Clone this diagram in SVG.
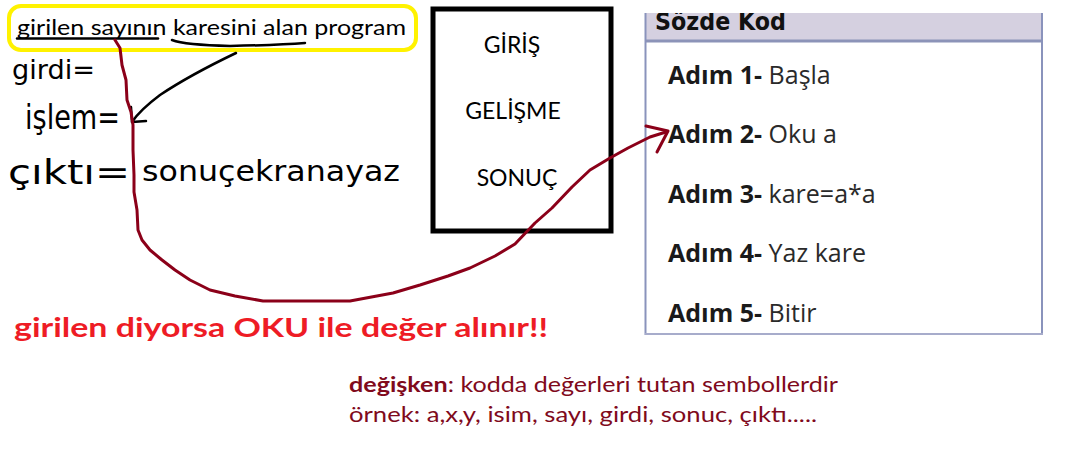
<svg xmlns="http://www.w3.org/2000/svg" width="1079" height="462" viewBox="0 0 1079 462">
<defs>
<style>
.cal{font-family:Lato,"Open Sans","Liberation Sans",sans-serif}
.hand{font-family:"DejaVu Sans","Liberation Sans",sans-serif;fill:#000}
.box{font-family:Lato,"Open Sans",sans-serif;font-size:23px;fill:#000;text-anchor:middle}
.tbl{font-family:"Open Sans","DejaVu Sans",sans-serif;font-size:25px;fill:#2a2a2a}
.tbl .b{font-weight:bold;fill:#1a1a1a}
.ink{fill:none;stroke:#000;stroke-width:2.5;stroke-linecap:round;stroke-linejoin:round}
.red{fill:none;stroke:#8B0019;stroke-width:3;stroke-linecap:round;stroke-linejoin:round}
.maroon{font-family:Lato,"Open Sans",sans-serif;font-size:21px;fill:#800A1C}
</style>
<clipPath id="tclip"><rect x="640" y="13" width="420" height="330"/></clipPath>
</defs>
<rect width="1079" height="462" fill="#fff"/>

<g id="title">
<rect x="9" y="6" width="407" height="44" rx="12" fill="none" stroke="#FFF200" stroke-width="4"/>
<text class="cal" x="17" y="35" font-size="22" textLength="389" lengthAdjust="spacingAndGlyphs">girilen sayının karesini alan program</text>
<path class="ink" d="M17 38.5 L158 38.5"/>
<path class="ink" d="M172 40 Q185 45 230 46 Q280 45 305 43"/>
</g>

<g id="handwriting">
<text class="hand" x="12" y="79" font-size="26" textLength="83" lengthAdjust="spacingAndGlyphs">girdi=</text>
<text class="hand" x="25" y="129" font-size="34" textLength="95" lengthAdjust="spacingAndGlyphs">işlem=</text>
<text class="hand" x="8" y="184" font-size="34" textLength="122" lengthAdjust="spacingAndGlyphs">çıktı=</text>
<text class="hand" x="142" y="181" font-size="28" textLength="258" lengthAdjust="spacingAndGlyphs">sonuçekranayaz</text>
</g>

<g id="stages">
<rect x="433" y="9" width="178" height="222" fill="none" stroke="#000" stroke-width="5"/>
<text class="box" x="512" y="53">GİRİŞ</text>
<text class="box" x="513" y="119">GELİŞME</text>
<text class="box" x="517" y="186">SONUÇ</text>
</g>

<g id="pseudocode" clip-path="url(#tclip)">
<rect x="645" y="0" width="397" height="41" fill="#D5D0E0"/>
<rect x="645" y="41" width="397" height="293" fill="#fff"/>
<text x="655" y="30" font-family="'DejaVu Sans',sans-serif" font-size="25" font-weight="bold" fill="#111" textLength="131" lengthAdjust="spacingAndGlyphs">Sözde Kod</text>
<line x1="645" y1="41" x2="1042" y2="41" stroke="#8C93B8" stroke-width="3"/>
<line x1="645.5" y1="0" x2="645.5" y2="335" stroke="#8A93BC" stroke-width="2"/>
<line x1="1042" y1="0" x2="1042" y2="335" stroke="#8A93BC" stroke-width="2"/>
<line x1="645" y1="334" x2="1043" y2="334" stroke="#A7ACCB" stroke-width="2"/>
<text class="tbl" x="668" y="84"><tspan class="b">Adım 1-</tspan> Başla</text>
<text class="tbl" x="668" y="143"><tspan class="b">Adım 2-</tspan> Oku a</text>
<text class="tbl" x="668" y="203"><tspan class="b">Adım 3-</tspan> kare=a*a</text>
<text class="tbl" x="668" y="262"><tspan class="b">Adım 4-</tspan> Yaz kare</text>
<text class="tbl" x="668" y="322"><tspan class="b">Adım 5-</tspan> Bitir</text>
</g>

<g id="notes">
<text class="cal" x="14" y="337" font-size="26" font-weight="bold" fill="#EE1C25" textLength="534" lengthAdjust="spacingAndGlyphs">girilen diyorsa OKU ile değer alınır!!</text>
<text class="maroon" x="349" y="392" textLength="489" lengthAdjust="spacingAndGlyphs"><tspan font-weight="bold">değişken</tspan>: kodda değerleri tutan sembollerdir</text>
<text class="maroon" x="349" y="422" textLength="468" lengthAdjust="spacingAndGlyphs">örnek: a,x,y, isim, sayı, girdi, sonuc, çıktı.....</text>
</g>

<g id="connectors">
<path class="ink" d="M236 53 Q190 75 160 95 Q140 110 132 122"/>
<path class="ink" d="M131 107 L132 122 L146 121"/>
<path class="red" d="M115 40 L120 48 L122 65 L126 80 L127 100 L131 112 L133 125 L133 150 L134 175 L134 192 L137 210 L138 230 L142 240 L150 250 L162 260 L175 270 L190 280 L210 290 L235 296 L263 301 L350 301 L393 293 L420 285 L448 276 L470 268 L495 256 L515 244 L535 223 L552 208 L572 187 L590 170 L610 158 L628 148 L650 137 L666 132"/>
<path class="red" d="M646 126 L668 131 L657 152"/>
</g>
</svg>
